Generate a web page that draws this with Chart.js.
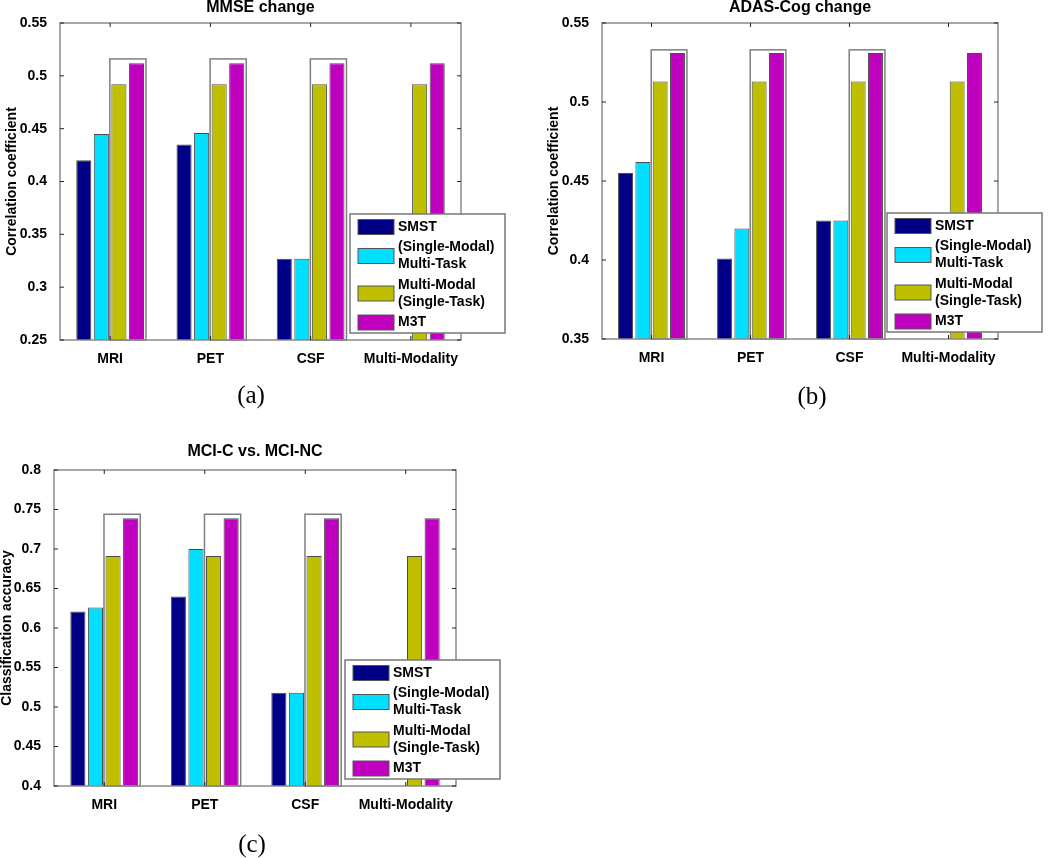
<!DOCTYPE html>
<html>
<head>
<meta charset="utf-8">
<script src="https://cdn.jsdelivr.net/npm/chart.js@4.4.0/dist/chart.umd.min.js"></script>
<style>
  body { margin: 0; background: #fff; }
  #wrap { position: relative; width: 1050px; height: 858px; }
  canvas { position: absolute; }
</style>
</head>
<body>
<div id="wrap">
  <canvas id="chartA" width="520" height="420" style="left:0;top:0"></canvas>
  <canvas id="chartB" width="530" height="420" style="left:520px;top:0"></canvas>
  <canvas id="chartC" width="520" height="438" style="left:0;top:420px"></canvas>
</div>
<script>
// categories and series
const categories = ['MRI', 'PET', 'CSF', 'Multi-Modality'];
const boxedCategories = ['MRI', 'PET', 'CSF'];
const seriesLabels = [['SMST'], ['(Single-Modal)', 'Multi-Task'], ['Multi-Modal', '(Single-Task)'], ['M3T']];
const seriesColors = ['#000086', '#00DFFF', '#BFBF00', '#BF00BF'];

// (a) MMSE change
const mmseSMST = [0.420, 0.435, 0.327, null];
const mmseMultiTask = [0.445, 0.446, 0.327, null];
const mmseMultiModal = [0.492, 0.492, 0.492, 0.492];
const mmseM3T = [0.512, 0.512, 0.512, 0.512];
const mmseBoxTop = 0.516;
const mmseTicks = [0.25, 0.3, 0.35, 0.4, 0.45, 0.5, 0.55];

// (b) ADAS-Cog change
const adasSMST = [0.455, 0.401, 0.425, null];
const adasMultiTask = [0.462, 0.420, 0.425, null];
const adasMultiModal = [0.513, 0.513, 0.513, 0.513];
const adasM3T = [0.531, 0.531, 0.531, 0.531];
const adasBoxTop = 0.533;
const adasTicks = [0.35, 0.4, 0.45, 0.5, 0.55];

// (c) MCI-C vs. MCI-NC
const mciSMST = [0.621, 0.640, 0.518, null];
const mciMultiTask = [0.626, 0.700, 0.518, null];
const mciMultiModal = [0.691, 0.691, 0.691, 0.691];
const mciM3T = [0.739, 0.739, 0.739, 0.739];
const mciBoxTop = 0.744;
const mciTicks = [0.4, 0.45, 0.5, 0.55, 0.6, 0.65, 0.7, 0.75, 0.8];

const FONT = '"Liberation Sans", Arial, sans-serif';

// boxes, frame, inward ticks, legend and caption
const decorPlugin = {
  id: 'decor',
  afterDraw(chart, args, opts) {
    const { ctx, chartArea: a, scales: { x, y } } = chart;
    ctx.save();

    const mm = chart.getDatasetMeta(2).data;
    const m3 = chart.getDatasetMeta(3).data;
    const top = y.getPixelForValue(opts.boxTop);
    ctx.strokeStyle = '#7f7f7f';
    ctx.lineWidth = 1.5;
    boxedCategories.forEach(c => {
      const i = categories.indexOf(c);
      const l = mm[i].x - mm[i].width / 2 - 1.5;
      const r = m3[i].x + m3[i].width / 2 + 2;
      ctx.strokeRect(l, top, r - l, a.bottom - top);
    });

    ctx.strokeStyle = '#8a8a8a';
    ctx.lineWidth = 1.5;
    ctx.strokeRect(a.left, a.top, a.width, a.height);

    ctx.strokeStyle = '#222';
    ctx.lineWidth = 1;
    ctx.beginPath();
    y.ticks.forEach((t, i) => {
      const py = y.getPixelForTick(i);
      ctx.moveTo(a.left, py); ctx.lineTo(a.left + 4, py);
      ctx.moveTo(a.right, py); ctx.lineTo(a.right - 4, py);
    });
    x.ticks.forEach((t, i) => {
      const px = x.getPixelForTick(i);
      ctx.moveTo(px, a.top); ctx.lineTo(px, a.top + 4);
      ctx.moveTo(px, a.bottom); ctx.lineTo(px, a.bottom - 4);
    });
    ctx.stroke();

    // legend
    const lw = 155, lh = 119;
    const lx = a.right - 111, ly = a.bottom - 7 - lh;
    ctx.fillStyle = '#fff';
    ctx.fillRect(lx, ly, lw, lh);
    ctx.strokeStyle = '#777';
    ctx.lineWidth = 1.5;
    ctx.strokeRect(lx, ly, lw, lh);
    ctx.font = 'bold 14px ' + FONT;
    ctx.textAlign = 'left';
    ctx.textBaseline = 'middle';
    let cy = ly + 13;
    chart.data.datasets.forEach((ds, i) => {
      const lines = seriesLabels[i];
      const mid = cy + (lines.length - 1) * 17 / 2;
      ctx.fillStyle = ds.backgroundColor;
      ctx.fillRect(lx + 8, mid - 7.5, 36, 15);
      ctx.strokeStyle = '#555';
      ctx.lineWidth = 1;
      ctx.strokeRect(lx + 8, mid - 7.5, 36, 15);
      ctx.fillStyle = '#000';
      lines.forEach((t, k) => ctx.fillText(t, lx + 48, cy + k * 17));
      cy += (lines.length - 1) * 17 + 20.5;
    });

    // panel caption
    ctx.font = '25px "Liberation Serif", "Times New Roman", serif';
    ctx.textAlign = 'center';
    ctx.fillStyle = '#000';
    ctx.fillText(opts.caption, opts.capX, opts.capY);
    ctx.restore();
  }
};

function buildChart(id, o) {
  const sets = [o.smst, o.multiTask, o.multiModal, o.m3t].map((d, i) => ({
    label: seriesLabels[i].join(' '),
    data: d,
    backgroundColor: seriesColors[i],
    borderColor: '#4a4a4a',
    borderWidth: 1,
    barPercentage: 0.86,
    categoryPercentage: 0.7
  }));
  return new Chart(document.getElementById(id), {
    type: 'bar',
    data: { labels: categories, datasets: sets },
    options: {
      responsive: false,
      animation: false,
      devicePixelRatio: 1,
      layout: { padding: { left: 0, top: 0, right: o.padRight, bottom: 0 } },
      plugins: {
        legend: { display: false },
        tooltip: { enabled: false },
        title: {
          display: true, text: o.title, fullSize: false, color: '#000',
          font: { family: FONT, size: 16, weight: 'bold', lineHeight: 1 },
          padding: { top: o.titleTop, bottom: o.titleBottom }
        },
        decor: { boxTop: o.boxTop, caption: o.caption, capX: o.capX, capY: o.capY }
      },
      scales: {
        x: {
          grid: { display: false },
          border: { display: false },
          ticks: {
            color: '#000', padding: 3, maxRotation: 0, minRotation: 0, autoSkip: false,
            font: { family: FONT, size: 14, weight: 'bold' }
          },
          afterFit: s => { s.height = o.xHeight; }
        },
        y: {
          min: o.ticks[0],
          max: o.ticks[o.ticks.length - 1],
          grid: { display: false },
          border: { display: false },
          afterBuildTicks: s => { s.ticks = o.ticks.map(v => ({ value: v })); },
          ticks: { color: '#000', padding: 5, font: { family: FONT, size: 14, weight: 'bold' }, callback: v => String(v) },
          title: {
            display: true, text: o.yTitle, color: '#000',
            font: { family: FONT, size: 14, weight: 'bold', lineHeight: 1 },
            padding: { top: o.yTitlePad, bottom: 0 }
          },
          afterFit: s => { s.width = o.yWidth; }
        }
      }
    },
    plugins: [decorPlugin]
  });
}

buildChart('chartA', {
  title: 'MMSE change', yTitle: 'Correlation coefficient',
  smst: mmseSMST, multiTask: mmseMultiTask, multiModal: mmseMultiModal, m3t: mmseM3T,
  boxTop: mmseBoxTop, ticks: mmseTicks,
  padRight: 59, titleTop: 0, titleBottom: 7, xHeight: 80, yWidth: 60, yTitlePad: 5.5,
  caption: '(a)', capX: 251, capY: 396
});

buildChart('chartB', {
  title: 'ADAS-Cog change', yTitle: 'Correlation coefficient',
  smst: adasSMST, multiTask: adasMultiTask, multiModal: adasMultiModal, m3t: adasM3T,
  boxTop: adasBoxTop, ticks: adasTicks,
  padRight: 52, titleTop: 0, titleBottom: 7, xHeight: 81, yWidth: 82, yTitlePad: 27,
  caption: '(b)', capX: 292, capY: 397
});

buildChart('chartC', {
  title: 'MCI-C vs. MCI-NC', yTitle: 'Classification accuracy',
  smst: mciSMST, multiTask: mciMultiTask, multiModal: mciMultiModal, m3t: mciM3T,
  boxTop: mciBoxTop, ticks: mciTicks,
  padRight: 64, titleTop: 24, titleBottom: 10, xHeight: 72, yWidth: 54, yTitlePad: 0,
  caption: '(c)', capX: 252, capY: 425
});
</script>
</body>
</html>
